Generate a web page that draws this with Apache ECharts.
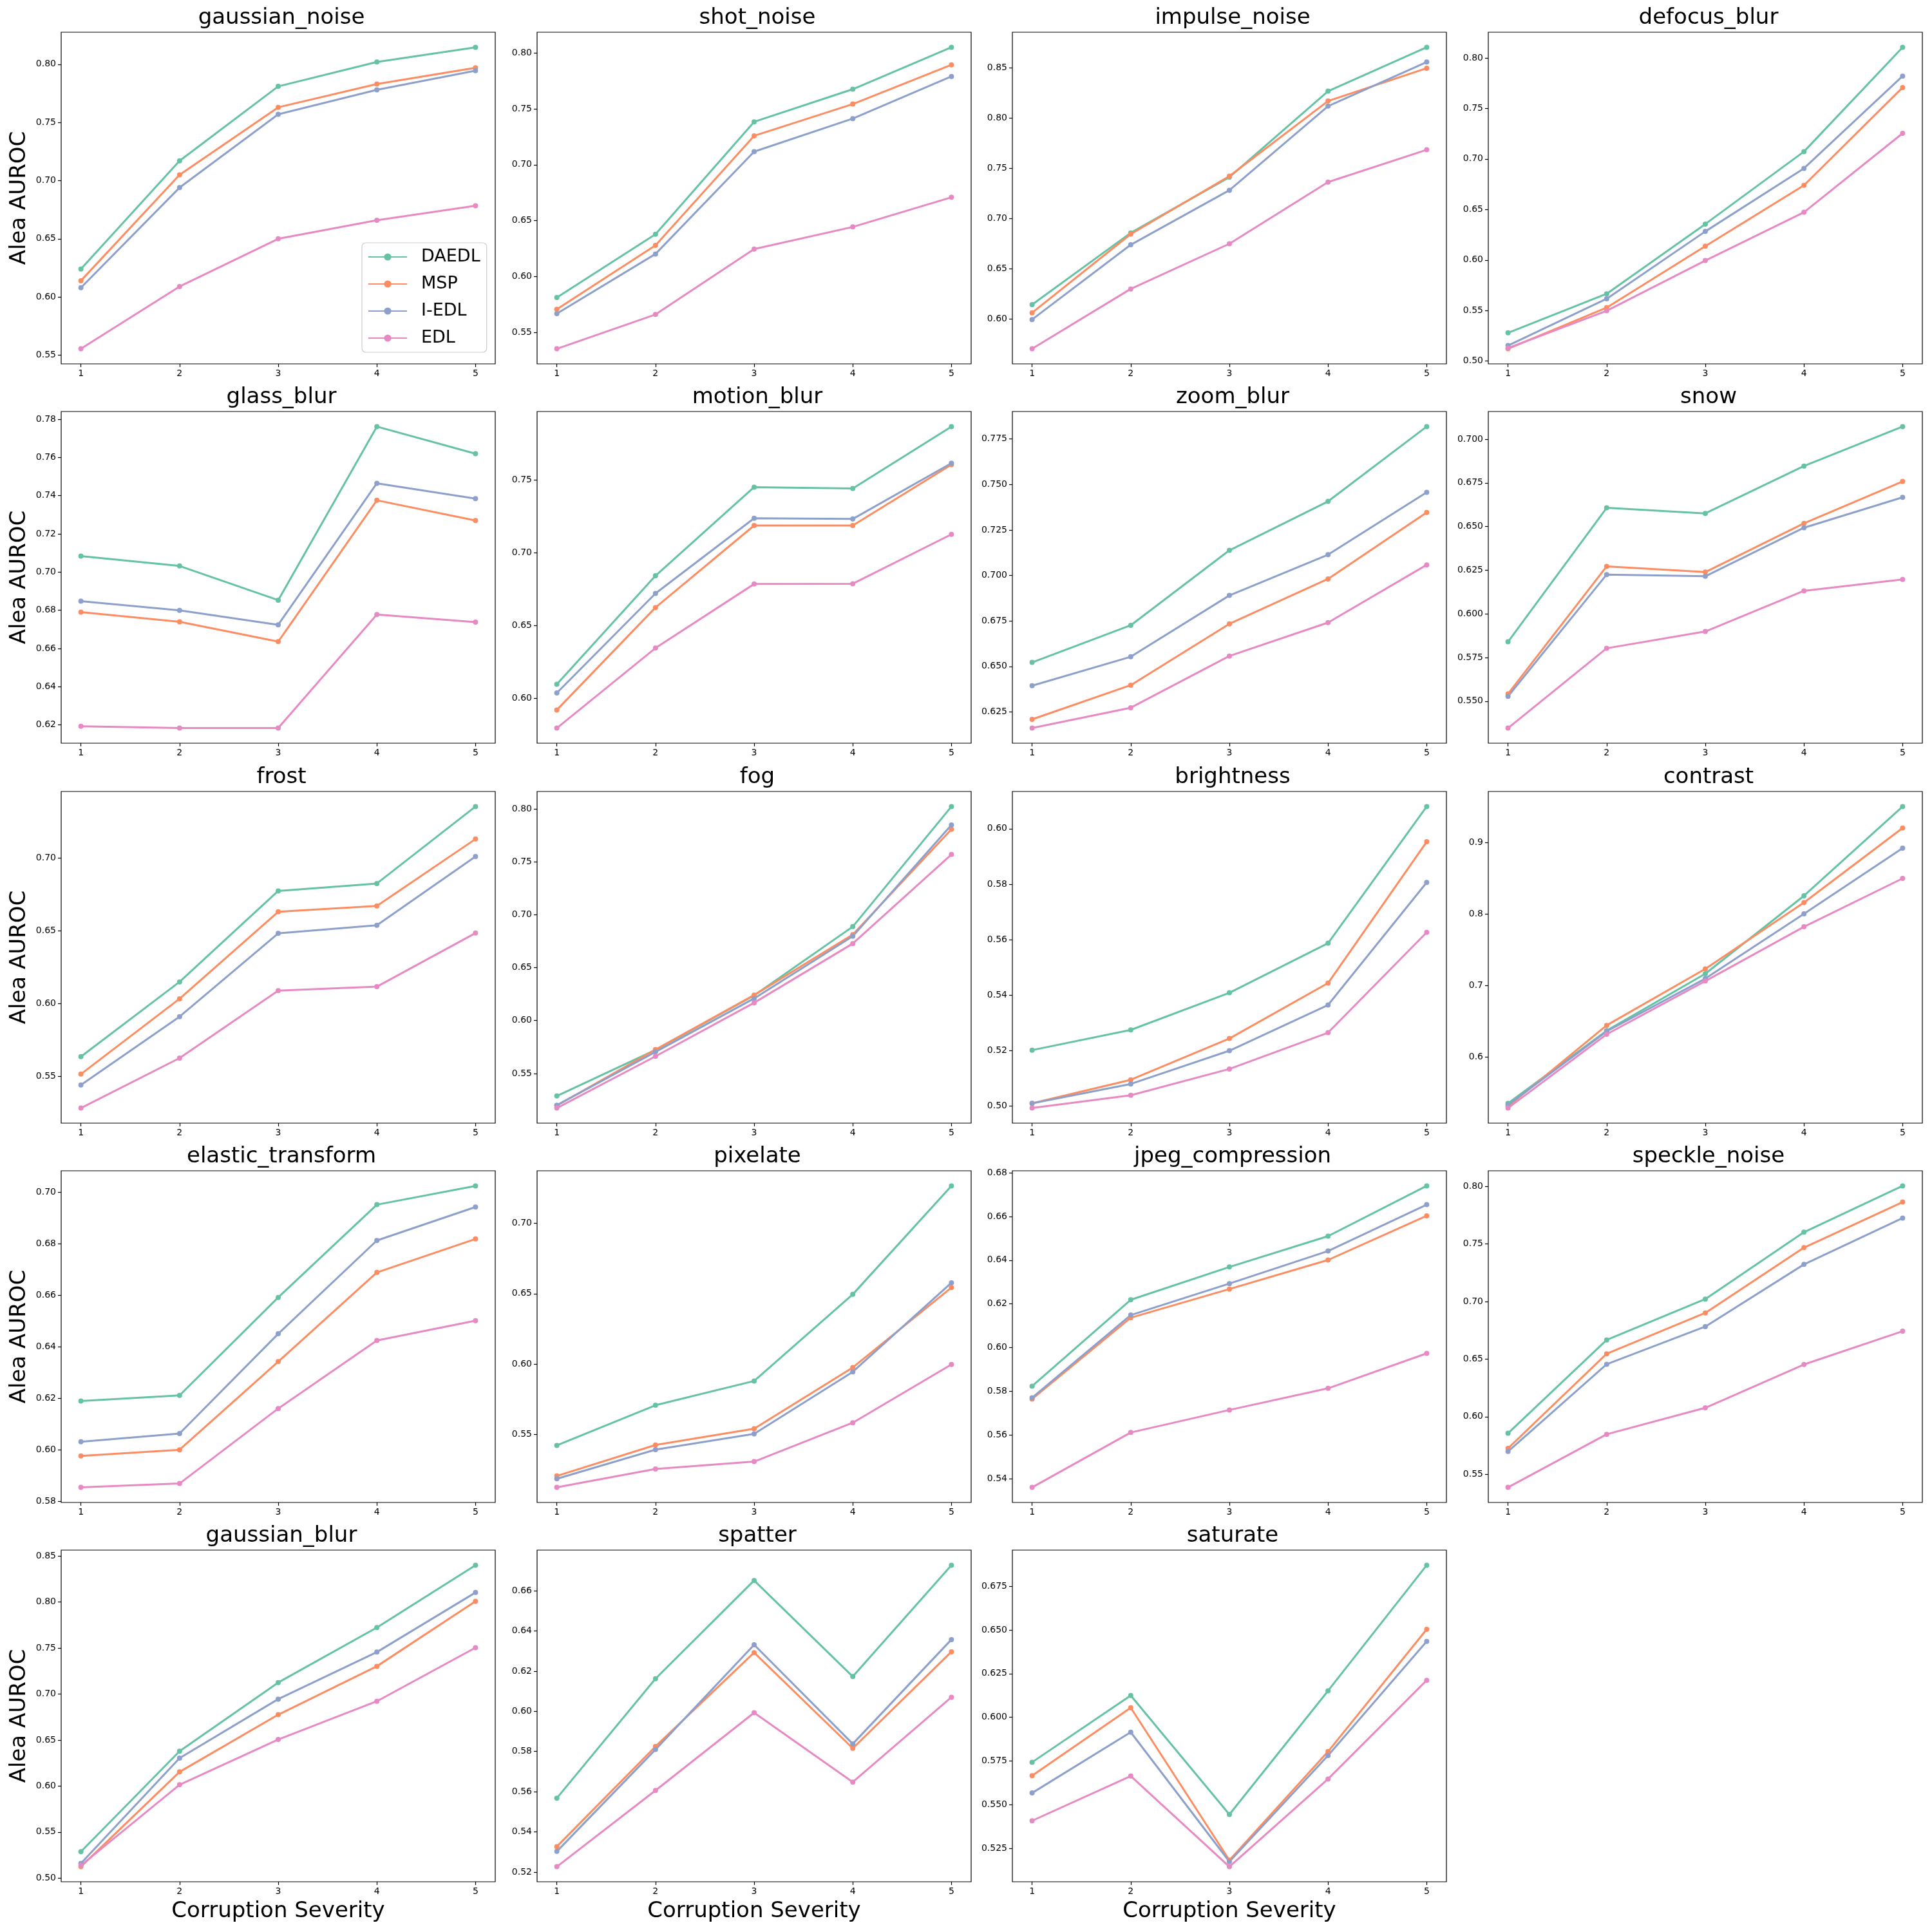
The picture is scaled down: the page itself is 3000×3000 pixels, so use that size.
<!DOCTYPE html>
<html>
<head>
<meta charset="utf-8">
<script src="https://cdn.jsdelivr.net/npm/echarts@6/dist/echarts.min.js"></script>
<style>html,body{margin:0;padding:0;background:#fff;}#c{width:3000px;height:3000px;}</style>
</head>
<body>
<div id="c"></div>
<script>
const corruptions = ['gaussian_noise','shot_noise','impulse_noise','defocus_blur','glass_blur','motion_blur','zoom_blur','snow','frost','fog','brightness','contrast','elastic_transform','pixelate','jpeg_compression','speckle_noise','gaussian_blur','spatter','saturate'];
const severities = [1, 2, 3, 4, 5];
const methods = ['DAEDL', 'MSP', 'I-EDL', 'EDL'];
const colors = ['#66c2a5', '#fc8d62', '#8da0cb', '#e78ac3'];

const DAEDL = [
  [0.624,0.717,0.781,0.802,0.8146],
  [0.5813,0.6378,0.7384,0.7676,0.8051],
  [0.6145,0.6858,0.7412,0.8267,0.8703],
  [0.528,0.5666,0.6356,0.7073,0.8105],
  [0.7084,0.7032,0.6853,0.7762,0.762],
  [0.6095,0.6842,0.7452,0.7443,0.7869],
  [0.6522,0.6726,0.7138,0.7407,0.7818],
  [0.584,0.6607,0.6575,0.6846,0.7072],
  [0.5637,0.615,0.6774,0.6825,0.7353],
  [0.5287,0.5722,0.6237,0.6888,0.8023],
  [0.5201,0.5274,0.5408,0.5587,0.608],
  [0.5354,0.6369,0.7164,0.8253,0.95],
  [0.619,0.6212,0.6592,0.6952,0.7025],
  [0.5423,0.5708,0.588,0.6495,0.7265],
  [0.5824,0.6219,0.6369,0.651,0.674],
  [0.5856,0.6666,0.7021,0.7602,0.8004],
  [0.5287,0.6379,0.7124,0.7722,0.8399],
  [0.5568,0.6162,0.6651,0.6173,0.6727],
  [0.5743,0.6125,0.5444,0.6152,0.6871]
];
const MSP = [
  [0.614,0.705,0.763,0.783,0.797],
  [0.5707,0.6279,0.7259,0.7543,0.7894],
  [0.6064,0.6846,0.7422,0.8169,0.8495],
  [0.5122,0.5529,0.6137,0.6739,0.7707],
  [0.679,0.674,0.6636,0.7376,0.727],
  [0.5918,0.6623,0.7188,0.7188,0.7607],
  [0.6209,0.6397,0.6734,0.6981,0.7346],
  [0.5542,0.6272,0.6239,0.6518,0.6758],
  [0.5517,0.6034,0.6631,0.6671,0.713],
  [0.5196,0.5726,0.6241,0.6813,0.7808],
  [0.5009,0.5094,0.5243,0.5443,0.5953],
  [0.531,0.6443,0.7231,0.8158,0.92],
  [0.5977,0.6001,0.6343,0.6689,0.6819],
  [0.5206,0.5426,0.5541,0.5976,0.6543],
  [0.5765,0.6137,0.6268,0.6401,0.6603],
  [0.5725,0.6546,0.6901,0.7468,0.7863],
  [0.5124,0.6154,0.6775,0.7301,0.8006],
  [0.5327,0.5825,0.6292,0.5816,0.6296],
  [0.5666,0.6055,0.5182,0.5804,0.6504]
];
const IEDL = [
  [0.608,0.694,0.757,0.778,0.7945],
  [0.5668,0.6202,0.7117,0.7413,0.779],
  [0.5997,0.674,0.7282,0.8118,0.8556],
  [0.5154,0.5617,0.6283,0.6907,0.782],
  [0.6848,0.68,0.6724,0.7465,0.7385],
  [0.6035,0.672,0.7238,0.7233,0.7617],
  [0.6394,0.6553,0.689,0.7114,0.7457],
  [0.5528,0.6225,0.6215,0.6493,0.6667],
  [0.5442,0.5911,0.6483,0.6538,0.701],
  [0.52,0.5704,0.6209,0.6797,0.7849],
  [0.5009,0.5079,0.5199,0.5364,0.5806],
  [0.5331,0.6359,0.7096,0.8002,0.8919],
  [0.6032,0.6064,0.6451,0.6813,0.6943],
  [0.5186,0.5393,0.5505,0.5945,0.6577],
  [0.5771,0.6149,0.6293,0.6442,0.6654],
  [0.5698,0.6455,0.6782,0.7322,0.7724],
  [0.516,0.6303,0.6944,0.7455,0.8102],
  [0.5303,0.581,0.6331,0.5838,0.6357],
  [0.5567,0.5915,0.5174,0.5781,0.6435]
];
const EDL = [
  [0.5555,0.609,0.650,0.666,0.6784],
  [0.5354,0.5661,0.6246,0.6444,0.6709],
  [0.5706,0.6301,0.675,0.7363,0.7684],
  [0.5129,0.5498,0.5995,0.6473,0.7254],
  [0.6193,0.6183,0.6183,0.6778,0.6738],
  [0.5793,0.6344,0.6785,0.6787,0.7127],
  [0.6161,0.6273,0.6557,0.6741,0.7058],
  [0.5346,0.5803,0.5899,0.6132,0.6197],
  [0.5284,0.5627,0.609,0.6117,0.6485],
  [0.5173,0.5662,0.6168,0.6728,0.757],
  [0.4992,0.5038,0.5133,0.5264,0.5626],
  [0.5287,0.6318,0.7062,0.782,0.8496],
  [0.5855,0.587,0.6161,0.6425,0.6502],
  [0.5125,0.5256,0.5308,0.5584,0.5997],
  [0.5361,0.5612,0.5715,0.5814,0.5974],
  [0.5386,0.5847,0.6077,0.6453,0.6742],
  [0.5138,0.6014,0.6506,0.6921,0.7503],
  [0.5227,0.5606,0.5993,0.5648,0.607],
  [0.5408,0.5664,0.5145,0.5647,0.6212]
];

const yTickLabels = [
  ['0.55','0.60','0.65','0.70','0.75','0.80'],
  ['0.55','0.60','0.65','0.70','0.75','0.80'],
  ['0.60','0.65','0.70','0.75','0.80','0.85'],
  ['0.50','0.55','0.60','0.65','0.70','0.75','0.80'],
  ['0.62','0.64','0.66','0.68','0.70','0.72','0.74','0.76','0.78'],
  ['0.60','0.65','0.70','0.75'],
  ['0.625','0.650','0.675','0.700','0.725','0.750','0.775'],
  ['0.550','0.575','0.600','0.625','0.650','0.675','0.700'],
  ['0.55','0.60','0.65','0.70'],
  ['0.55','0.60','0.65','0.70','0.75','0.80'],
  ['0.50','0.52','0.54','0.56','0.58','0.60'],
  ['0.6','0.7','0.8','0.9'],
  ['0.58','0.60','0.62','0.64','0.66','0.68','0.70'],
  ['0.55','0.60','0.65','0.70'],
  ['0.54','0.56','0.58','0.60','0.62','0.64','0.66','0.68'],
  ['0.55','0.60','0.65','0.70','0.75','0.80'],
  ['0.50','0.55','0.60','0.65','0.70','0.75','0.80','0.85'],
  ['0.52','0.54','0.56','0.58','0.60','0.62','0.64','0.66'],
  ['0.525','0.550','0.575','0.600','0.625','0.650','0.675']
];
const xLabel = 'Corruption Severity';
const yLabel = 'Alea AUROC';

const seriesData = [DAEDL, MSP, IEDL, EDL];
const FONT = 'DejaVu Sans';
const colLeft = [95, 834, 1572, 2311];
const rowTop = [50, 639, 1229, 1818, 2407];
const GW = 674, GH = 515;

const grids = [], xAxes = [], yAxes = [], series = [], titles = [], graphics = [];
corruptions.forEach((name, i) => {
  const r = Math.floor(i / 4), c = i % 4;
  const left = colLeft[c], top = rowTop[r];
  grids.push({left: left, top: top, width: GW, height: GH, show: true, borderColor: '#000', borderWidth: 1.2, backgroundColor: '#fff'});
  let lo = Infinity, hi = -Infinity;
  seriesData.forEach(s => s[i].forEach(v => { lo = Math.min(lo, v); hi = Math.max(hi, v); }));
  const pad = (hi - lo) * 0.05;
  const ticks = yTickLabels[i].map(Number);
  const labels = yTickLabels[i];
  xAxes.push({
    type: 'value', gridIndex: i, min: 0.8, max: 5.2,
    axisLine: {show: false}, splitLine: {show: false},
    axisTick: {show: true, length: 5, lineStyle: {color: '#000', width: 1.2}, customValues: severities},
    axisLabel: {show: true, color: '#000', fontFamily: FONT, fontSize: 14, margin: 8, customValues: severities, formatter: v => String(Math.round(v))}
  });
  yAxes.push({
    type: 'value', gridIndex: i, min: lo - pad, max: hi + pad,
    axisLine: {show: false}, splitLine: {show: false},
    axisTick: {show: true, length: 5, lineStyle: {color: '#000', width: 1.2}, customValues: ticks},
    axisLabel: {show: true, color: '#000', fontFamily: FONT, fontSize: 14, margin: 8, customValues: ticks,
      formatter: v => { let best = 0; ticks.forEach((t, k) => { if (Math.abs(t - v) < Math.abs(ticks[best] - v)) best = k; }); return labels[best]; }}
  });
  titles.push({text: name, left: left + GW / 2, top: top - 44, textAlign: 'center',
    textStyle: {fontFamily: FONT, fontSize: 34, fontWeight: 'normal', color: '#000'}});
  methods.forEach((m, k) => {
    series.push({
      name: m, type: 'line', xAxisIndex: i, yAxisIndex: i,
      data: severities.map((s, j) => [s, seriesData[k][i][j]]),
      symbol: 'circle', symbolSize: 8, showSymbol: true,
      lineStyle: {color: colors[k], width: 3}, itemStyle: {color: colors[k]},
      emphasis: {disabled: true}, animation: false
    });
  });
  if (c === 0) {
    graphics.push({type: 'text', x: 30, y: top + GH / 2, rotation: Math.PI / 2,
      style: {text: yLabel, font: '34px "DejaVu Sans"', fill: '#000', textAlign: 'center', textVerticalAlign: 'middle'}});
  }
  if (r === 4) {
    graphics.push({type: 'text', x: left + GW / 2, y: 2968,
      style: {text: xLabel, font: '34px "DejaVu Sans"', fill: '#000', textAlign: 'center', textVerticalAlign: 'middle'}});
  }
});

const chart = echarts.init(document.getElementById('c'), null, {renderer: 'canvas'});
chart.setOption({
  backgroundColor: '#fff',
  animation: false,
  title: titles,
  grid: grids,
  xAxis: xAxes,
  yAxis: yAxes,
  series: series,
  graphic: graphics,
  legend: {
    data: methods, orient: 'vertical', left: 562, top: 377,
    backgroundColor: 'rgba(255,255,255,0.8)', borderColor: '#cccccc', borderWidth: 1.2, borderRadius: 6,
    padding: [8, 10, 8, 9], itemWidth: 60, itemHeight: 14, itemGap: 14,
    textStyle: {fontFamily: FONT, fontSize: 27, color: '#000', lineHeight: 28, padding: [0, 0, 0, 17]}
  }
});
</script>
</body>
</html>
